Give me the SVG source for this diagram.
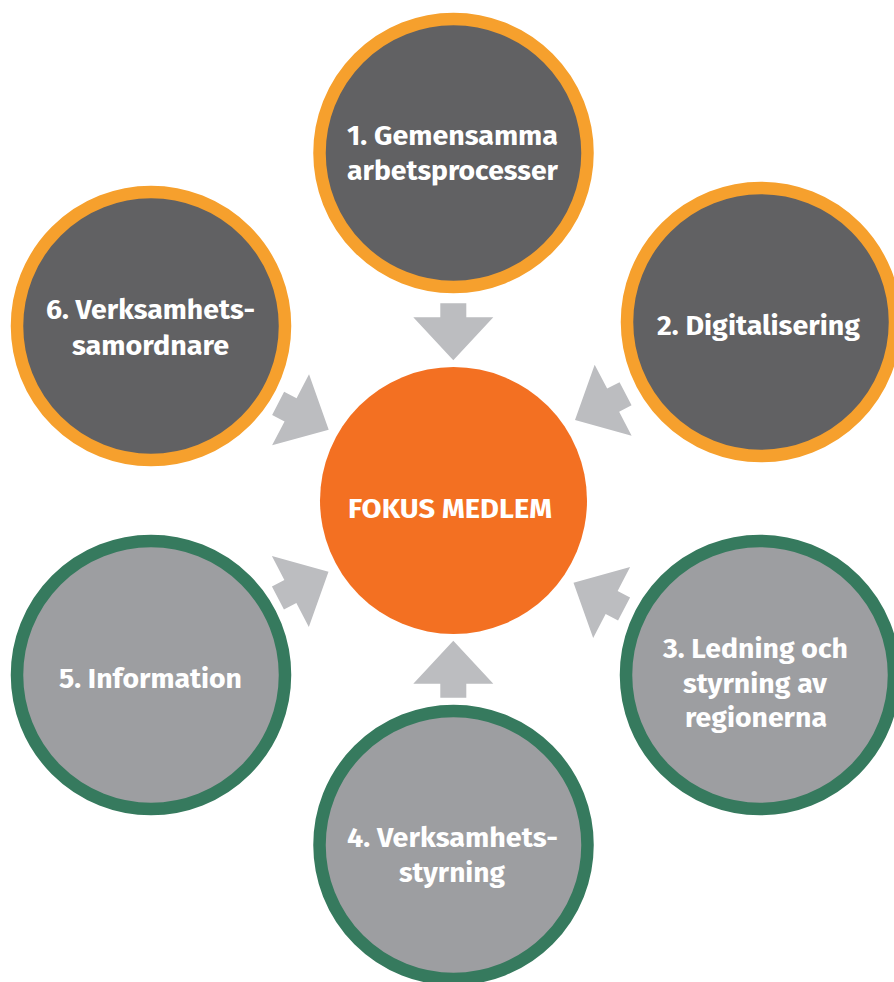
<svg xmlns="http://www.w3.org/2000/svg" width="894" height="982" viewBox="0 0 894 982">
<style>
.ring-o{fill:#616163;stroke:#F6A02D;stroke-width:12.5}
.ring-g{fill:#9D9EA1;stroke:#367A5E;stroke-width:12.5}
.core{fill:#F37022}
.lbl{font-family:"Fira Sans","Noto Sans","Open Sans",sans-serif;font-weight:700;font-size:28px;fill:#FFFFFF;text-anchor:middle}
.arr{fill:#BCBDC0}
</style>
<defs>
<polygon id="arrow" points="0,0 40,-43 13,-43 13,-57 -13,-57 -13,-43 -40,-43"/>
</defs>
<rect width="894" height="982" fill="#FFFFFF"/>
<g id="connectors">
<use href="#arrow" class="arr" transform="translate(453.3,360.3)"/>
<use href="#arrow" class="arr" transform="translate(575,420) rotate(62.5)"/>
<use href="#arrow" class="arr" transform="translate(573.5,582.7) rotate(117.5)"/>
<use href="#arrow" class="arr" transform="translate(453.3,640.7) rotate(180)"/>
<use href="#arrow" class="arr" transform="translate(328.5,571.7) rotate(-117.5)"/>
<use href="#arrow" class="arr" transform="translate(328.7,429.7) rotate(-62.5)"/>
</g>
<g id="node-center">
<circle class="core" cx="453.5" cy="500.5" r="133.5"/>
<text class="lbl" x="450" y="518" textLength="204" lengthAdjust="spacingAndGlyphs">FOKUS MEDLEM</text>
</g>
<g id="node-1">
<circle class="ring-o" cx="453.5" cy="153" r="134"/>
<text class="lbl" x="452.5" y="145" textLength="211" lengthAdjust="spacingAndGlyphs">1. Gemensamma</text>
<text class="lbl" x="452.5" y="180" textLength="211" lengthAdjust="spacingAndGlyphs">arbetsprocesser</text>
</g>
<g id="node-2">
<circle class="ring-o" cx="761" cy="322" r="134"/>
<text class="lbl" x="758.5" y="335" textLength="203" lengthAdjust="spacingAndGlyphs">2. Digitalisering</text>
</g>
<g id="node-3">
<circle class="ring-g" cx="760" cy="675" r="134"/>
<text class="lbl" x="755.5" y="657.5" textLength="185" lengthAdjust="spacingAndGlyphs">3. Ledning och</text>
<text class="lbl" x="755" y="692.5" textLength="144" lengthAdjust="spacingAndGlyphs">styrning av</text>
<text class="lbl" x="756" y="727" textLength="142" lengthAdjust="spacingAndGlyphs">regionerna</text>
</g>
<g id="node-4">
<circle class="ring-g" cx="453.5" cy="845" r="134"/>
<text class="lbl" x="452.5" y="847" textLength="211" lengthAdjust="spacingAndGlyphs">4. Verksamhets-</text>
<text class="lbl" x="452" y="882" textLength="106" lengthAdjust="spacingAndGlyphs">styrning</text>
</g>
<g id="node-5">
<circle class="ring-g" cx="151" cy="675" r="134"/>
<text class="lbl" x="150.5" y="688" textLength="183" lengthAdjust="spacingAndGlyphs">5. Information</text>
</g>
<g id="node-6">
<circle class="ring-o" cx="151" cy="326" r="134"/>
<text class="lbl" x="150.5" y="319" textLength="209" lengthAdjust="spacingAndGlyphs">6. Verksamhets-</text>
<text class="lbl" x="150.5" y="355" textLength="157" lengthAdjust="spacingAndGlyphs">samordnare</text>
</g>
</svg>
